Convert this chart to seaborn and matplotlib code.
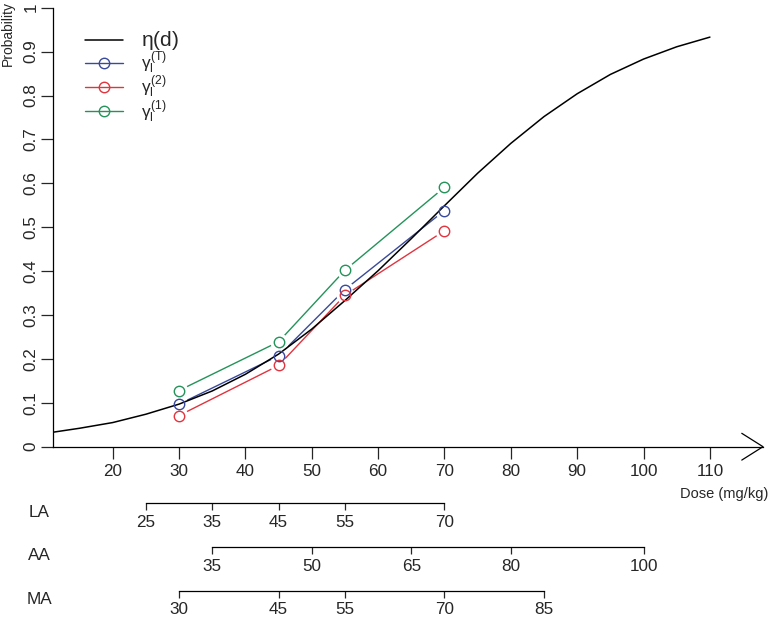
import numpy as np
import matplotlib.pyplot as plt
import seaborn as sns
from matplotlib.lines import Line2D

# eta(d) curve, every 5 mg/kg
curve_dose = [11, 15, 20, 25, 30, 35, 40, 45, 50, 55, 60, 65, 70, 75, 80, 85, 90, 95, 100, 105, 110]
curve_prob = [0.033, 0.042, 0.055, 0.074, 0.097, 0.127, 0.165, 0.211, 0.268, 0.333, 0.401, 0.474,
              0.549, 0.623, 0.691, 0.752, 0.804, 0.848, 0.883, 0.911, 0.933]

# observed toxicity estimates
obs_dose = [30, 45, 55, 70]
gamma_T = [0.097, 0.207, 0.358, 0.538]
gamma_2 = [0.071, 0.185, 0.345, 0.492]
gamma_1 = [0.128, 0.239, 0.402, 0.591]

x_ticks = [20, 30, 40, 50, 60, 70, 80, 90, 100, 110]
y_ticks = [0, 0.1, 0.2, 0.3, 0.4, 0.5, 0.6, 0.7, 0.8, 0.9, 1]
y_labels = ['0', '0.1', '0.2', '0.3', '0.4', '0.5', '0.6', '0.7', '0.8', '0.9', '1']

# population specific dose scales
scale_names = ['LA', 'AA', 'MA']
la_ticks = [25, 35, 45, 55, 70]
aa_ticks = [35, 50, 65, 80, 100]
ma_ticks = [30, 45, 55, 70, 85]

sns.set_style('white')
plt.rcParams['font.family'] = ['Liberation Sans', 'DejaVu Sans']
plt.rcParams['mathtext.fontset'] = 'custom'
plt.rcParams['mathtext.rm'] = 'Liberation Sans'
plt.rcParams['mathtext.it'] = 'Liberation Sans'

W, H = 771, 617
fig = plt.figure(figsize=(W / 100, H / 100), dpi=100)

x_lo, x_hi = 11, 118
ax_left, ax_right = 53, 763
y0_px, y1_px = 446.7, 7.7
ax = fig.add_axes([ax_left / W, 1 - y0_px / H, (ax_right - ax_left) / W, (y0_px - y1_px) / H])
ax.set_xlim(x_lo, x_hi)
ax.set_ylim(0, 1)
ax.patch.set_visible(False)

blue = '#3a4a9a'
red = '#e0343f'
green = '#24935a'
fs = 12.3

# curve
sns.lineplot(x=curve_dose, y=curve_prob, color='black', lw=1.1, sort=False, ax=ax, zorder=6)

# gamma series, R type="b" look: lines broken around the points
series = [(gamma_T, blue), (gamma_2, red), (gamma_1, green)]
for i, (vals, c) in enumerate(series):
    sns.lineplot(x=obs_dose, y=vals, color=c, lw=1.0, ax=ax, zorder=2 + i * 0.2)
    ax.plot(obs_dose, vals, linestyle='none', marker='o', ms=13, mfc='white', mec='none',
            zorder=2.1 + i * 0.2)
for vals, c in series:
    ax.plot(obs_dose, vals, linestyle='none', marker='o', ms=7.5, mfc='none', mec=c, mew=1.0,
            zorder=7)

# axes styling
for s in ['top', 'right']:
    ax.spines[s].set_visible(False)
ax.spines['left'].set_bounds(0, 1)
ax.spines['bottom'].set_bounds(x_lo, x_hi)
for s in ['left', 'bottom']:
    ax.spines[s].set_linewidth(0.9)
    ax.spines[s].set_color('black')
ax.set_xticks(x_ticks)
ax.set_yticks(y_ticks)
ax.set_yticklabels(y_labels, rotation=90, va='center')
ax.tick_params(axis='x', direction='out', length=8.6, width=0.9, pad=4, labelsize=fs, bottom=True)
ax.tick_params(axis='y', direction='out', length=8.6, width=0.9, pad=2, labelsize=fs, left=True)

# arrow head on the dose axis
ax.plot([x_hi - 3.2, x_hi, x_hi - 3.2], [0.0305, 0, -0.0305], color='black', lw=0.9, clip_on=False)

fig.text(7.5 / W, 1 - 34 / H, 'Probability', rotation=90, ha='center', va='center', fontsize=10)
fig.text(724 / W, 1 - 494 / H, 'Dose (mg/kg)', ha='center', va='center', fontsize=10.5)

# legend
handles = [Line2D([], [], color='black', lw=1.1)]
for vals, c in series:
    handles.append(Line2D([], [], color=c, lw=1.0, marker='o', ms=7.5, mfc='none', mec=c))
labels = [r'$\eta(\mathrm{d})$', r'$\gamma_{\mathrm{l}}^{(\mathrm{T})}$',
          r'$\gamma_{\mathrm{l}}^{(2)}$', r'$\gamma_{\mathrm{l}}^{(1)}$']
leg = ax.legend(handles, labels, loc='upper left', bbox_to_anchor=(85 / W, 1 - 29 / H),
                bbox_transform=fig.transFigure, frameon=False, fontsize=12.5, borderpad=0,
                borderaxespad=0, handlelength=2.2, handletextpad=1.0, labelspacing=-0.12)
leg.get_texts()[0].set_fontsize(15)

# population dose scales below the main axis
scale_ticks = [la_ticks, aa_ticks, ma_ticks]
scale_line_px = [502.7, 546.7, 590.5]
scale_label_px = [512.7, 556, 600]
for name, ticks, ly, ny in zip(scale_names, scale_ticks, scale_line_px, scale_label_px):
    sub = fig.add_axes([ax_left / W, 1 - ly / H, (ax_right - ax_left) / W, 0.001])
    sub.set_xlim(x_lo, x_hi)
    sub.patch.set_visible(False)
    for s in ['top', 'right', 'left']:
        sub.spines[s].set_visible(False)
    sub.spines['bottom'].set_bounds(min(ticks), max(ticks))
    sub.spines['bottom'].set_linewidth(0.9)
    sub.spines['bottom'].set_color('black')
    sub.set_yticks([])
    sub.set_xticks(ticks)
    sub.tick_params(axis='x', direction='out', length=5, width=0.9, pad=3.5, labelsize=fs, bottom=True)
    fig.text(39 / W, 1 - ny / H, name, ha='center', va='center', fontsize=fs)

fig.savefig('out.png', dpi=100)
